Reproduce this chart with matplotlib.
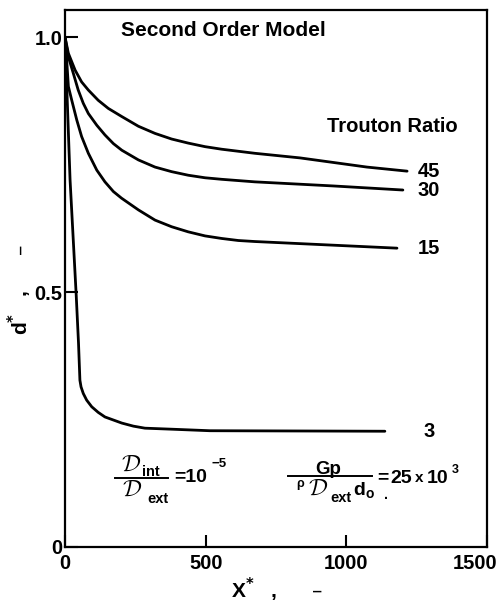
import matplotlib
matplotlib.use("Agg")
import matplotlib.pyplot as plt
import matplotlib.transforms as mtrans
from matplotlib.lines import Line2D

plt.rcParams['font.family'] = ['Liberation Sans', 'DejaVu Sans']
plt.rcParams['font.weight'] = 'bold'

# ---- data ----
x_tr45 = [0, 12, 36, 59, 83, 118, 154, 202, 261, 320, 379, 438, 498, 557, 616, 675, 835, 1073, 1216]
y_tr45 = [1.0, 0.968, 0.935, 0.912, 0.896, 0.876, 0.860, 0.844, 0.825, 0.811, 0.800, 0.792,
          0.785, 0.780, 0.776, 0.772, 0.763, 0.745, 0.737]

x_tr30 = [0, 12, 30, 47, 65, 83, 113, 142, 172, 202, 261, 320, 379, 438, 498, 557, 675, 953, 1201]
y_tr30 = [1.0, 0.961, 0.928, 0.896, 0.870, 0.850, 0.827, 0.808, 0.791, 0.778, 0.759, 0.745,
          0.736, 0.729, 0.724, 0.721, 0.716, 0.708, 0.700]

x_tr15 = [0, 6, 12, 24, 42, 59, 83, 113, 142, 172, 201, 261, 320, 379, 438, 498, 557, 616, 675, 1180]
y_tr15 = [1.0, 0.955, 0.903, 0.876, 0.837, 0.805, 0.772, 0.739, 0.716, 0.697, 0.684, 0.661,
          0.641, 0.628, 0.618, 0.610, 0.605, 0.601, 0.599, 0.586]

x_tr3 = [0, 18, 40, 48, 53, 57, 65, 77, 95, 118, 142, 172, 202, 243, 284, 379, 515, 1137]
y_tr3 = [1.0, 0.720, 0.492, 0.400, 0.327, 0.314, 0.301, 0.288, 0.275, 0.264, 0.255, 0.249,
         0.243, 0.237, 0.233, 0.231, 0.228, 0.227]

series_labels = ['45', '30', '15', '3']
x_ticks = [0, 500, 1000, 1500]
x_ticklabels = ['0', '500', '1000', '1500']
y_ticks = [0, 0.5, 1.0]
y_ticklabels = ['0', '0.5', '1.0']

W, H = 496, 607
fig = plt.figure(figsize=(W / 100, H / 100), dpi=100)
ax = fig.add_axes([65 / W, 1 - 547 / H, 422 / W, 537 / H])

series = [(x_tr45, y_tr45), (x_tr30, y_tr30), (x_tr15, y_tr15), (x_tr3, y_tr3)]
for (xs, ys), lab in zip(series, series_labels):
    ax.plot(xs, ys, color='black', lw=2.0, solid_capstyle='round', solid_joinstyle='round')
    ax.text(1293, ys[-1], lab, ha='center', va='center', fontsize=14.5, fontweight='bold')

ax.set_xlim(0, 1500)
ax.set_ylim(0, 1.053)
ax.set_xticks(x_ticks)
ax.set_xticklabels(x_ticklabels)
ax.set_yticks(y_ticks)
ax.set_yticklabels(y_ticklabels)
ax.tick_params(direction='in', length=9, width=1.5, labelsize=14.5, color='black')
ax.tick_params(axis='x', pad=5)
ax.tick_params(axis='y', pad=2)
for sp in ax.spines.values():
    sp.set_linewidth(1.6)
    sp.set_color('black')

last = ax.get_xticklabels()[-1]
last.set_transform(last.get_transform() + mtrans.ScaledTranslation(-12 / 100, 0, fig.dpi_scale_trans))

ax.set_xlabel('X$^{*}$   ,      \u2013', fontsize=15, fontweight='bold')
ax.xaxis.set_label_coords((277 - 65) / 422, (547 - 576) / 537)
ax.set_ylabel('d$^{*}$   ,      \u2013', fontsize=15, fontweight='bold')
ax.yaxis.set_label_coords((34 - 65) / 422, (547 - 290) / 537)


def ftext(px, py, s, size, ha='left', va='baseline', **kw):
    fig.text(px / W, 1 - py / H, s, fontsize=size, ha=ha, va=va, fontweight='bold', **kw)


def script_d(px, py, size=17):
    fig.text(px / W, 1 - py / H, r'$\mathcal{D}$', fontsize=size, ha='center', va='center',
             math_fontfamily='cm')


def bar(px0, px1, py):
    fig.add_artist(Line2D([px0 / W, px1 / W], [1 - py / H, 1 - py / H],
                          transform=fig.transFigure, color='black', lw=1.4))


# titles
ftext(121, 36, 'Second Order Model', 15)
ftext(327, 132, 'Trouton Ratio', 14.5)

# fraction 1: D_int / D_ext = 10^-5
script_d(131, 464)
ftext(142, 476, 'int', 10.5)
bar(115, 168, 478)
script_d(132, 489)
ftext(147, 503, 'ext', 10.5)
ftext(174, 482, '=10', 14)
ftext(212, 467, '\u22125', 9.5)

# fraction 2: Gp / (rho D_ext d_o) = 25 x 10^3
ftext(315, 474, 'Gp', 13.5)
bar(288, 372, 476)
ftext(300, 487, '\u03c1', 9, ha='center')
script_d(318, 488)
ftext(330, 502, 'ext', 10.5)
ftext(353, 495, 'd', 14)
ftext(366, 498, 'o', 10)
ftext(384, 499, '.', 10)
ftext(377, 482, '=', 14)
ftext(390, 483, '25', 14)
ftext(415, 482, 'x', 11)
ftext(427, 483, '10', 14)
ftext(452, 473, '3', 9)

fig.savefig('out.png', dpi=100)
